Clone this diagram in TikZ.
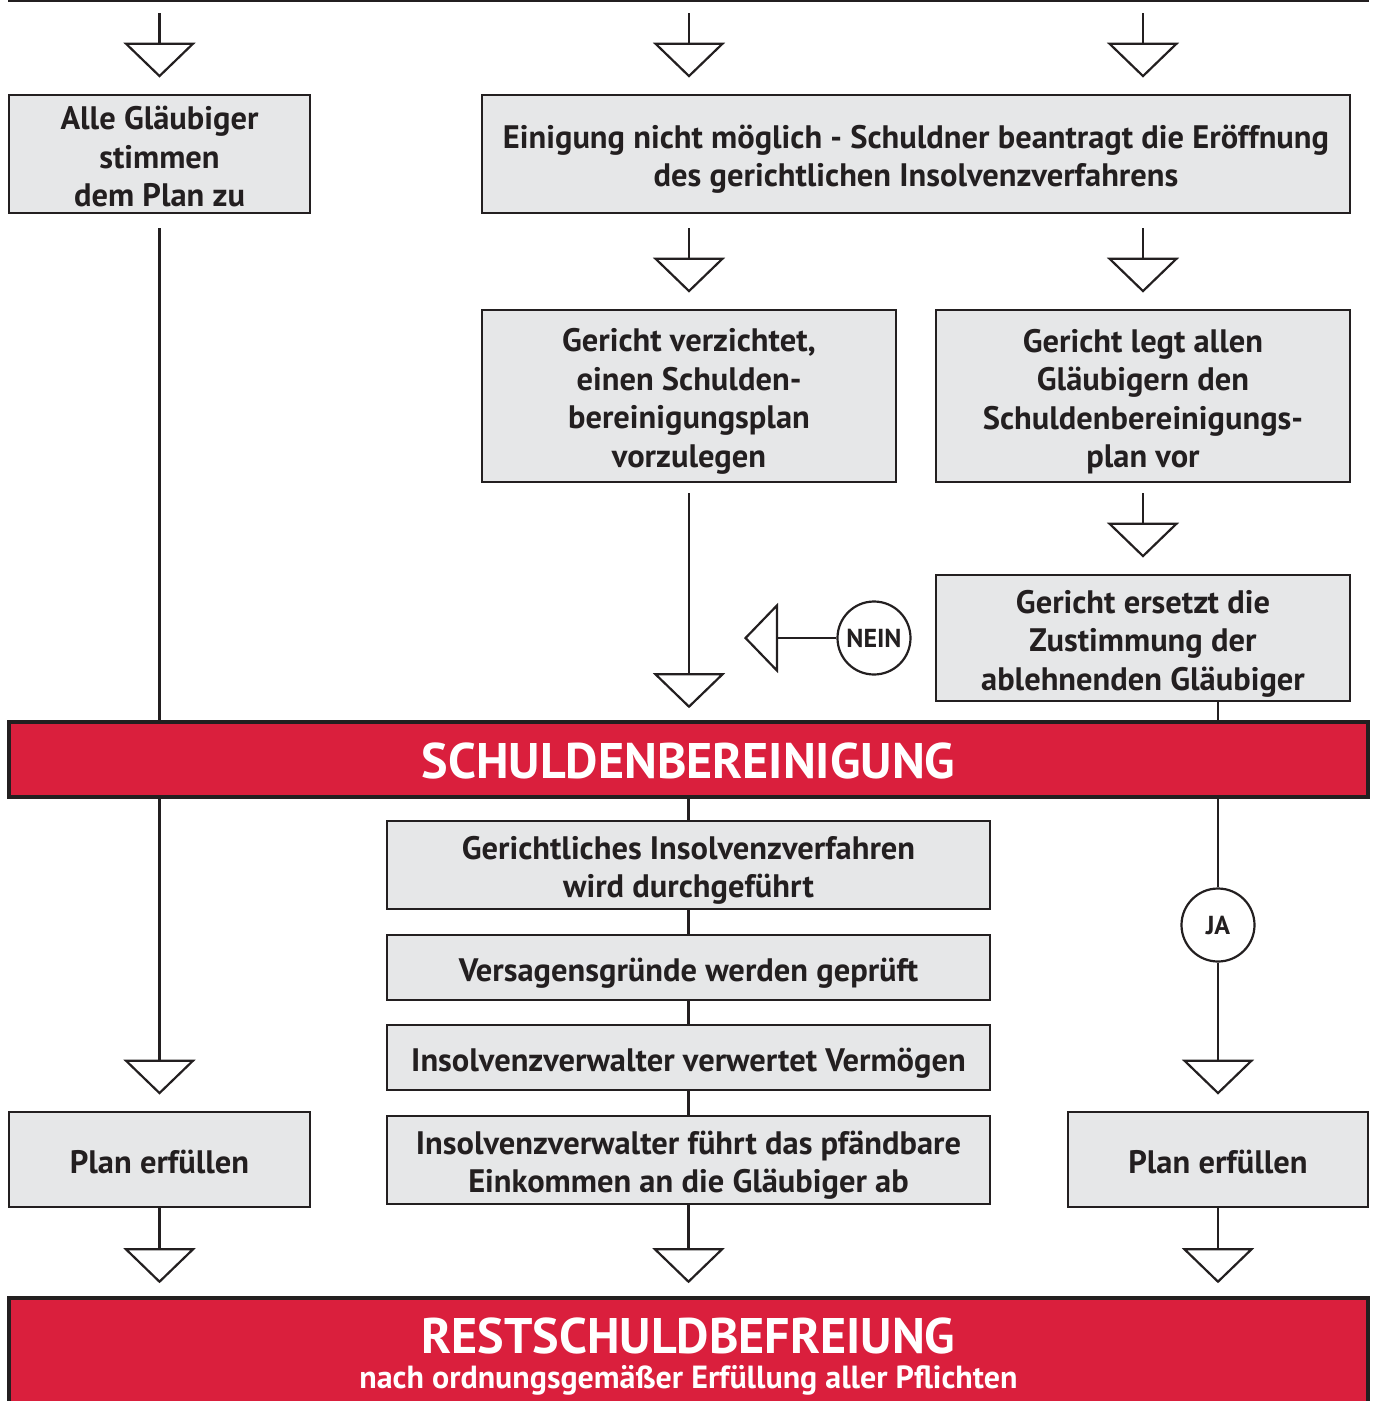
\documentclass[tikz,border=0pt]{standalone}
\usepackage{fontspec}
\setmainfont{PT Sans}
\usetikzlibrary{arrows.meta}
\definecolor{ink}{HTML}{231F20}
\definecolor{boxgray}{HTML}{E6E7E8}
\definecolor{brandred}{HTML}{DA1F3D}
\newcommand\tst{\rule{0pt}{34pt}}
\newcommand\bst{\rule[-6pt]{0pt}{6pt}}
\begin{document}
\begin{tikzpicture}[x=1pt,y=-1pt,
  box/.style={draw=ink, line width=2.8pt, fill=boxgray, text=ink, align=center, inner sep=0pt,
    font=\fontsize{32.5}{38.5}\selectfont\bfseries},
  redbox/.style={draw=ink, line width=3.6pt, fill=brandred, inner sep=0pt},
  redtext/.style={text=white, align=center, inner sep=0pt},
  circ/.style={circle, draw=ink, line width=2.2pt, fill=white, minimum size=73pt, inner sep=0pt,
    text=ink, font=\fontsize{26}{28}\selectfont\bfseries},
  conn/.style={draw=ink, line width=2.2pt},
  flow/.style={conn, -{Triangle[open, length=35pt, width=72pt, line width=2.2pt]}},
  flowh/.style={conn, -{Triangle[open, length=34pt, width=70pt, line width=2.2pt]}},
]
\useasboundingbox (0,0) rectangle (1375,1401);
\clip (0,0) rectangle (1375,1401);

% boxes
\node[box, minimum width=1359pt, minimum height=62pt] (top) at (688.5,-30) {};
\node[box, minimum width=301pt, minimum height=118pt] (alle) at (159.5,154) {\tst Alle Gläubiger\\stimmen\\dem Plan zu\bst};
\node[box, minimum width=868pt, minimum height=118pt] (einig) at (916,154) {\tst Einigung nicht möglich - Schuldner beantragt die Eröffnung\\des gerichtlichen Insolvenzverfahrens\bst};
\node[box, minimum width=414pt, minimum height=172pt] (verz) at (689,396) {\tst Gericht verzichtet,\\einen Schulden-\\bereinigungsplan\\vorzulegen\bst};
\node[box, minimum width=414pt, minimum height=172pt] (legt) at (1143,396) {\tst Gericht legt allen\\Gläubigern den\\Schuldenbereinigungs-\\plan vor\bst};
\node[box, minimum width=414pt, minimum height=126pt] (ersetzt) at (1143,638) {\tst Gericht ersetzt die\\Zustimmung der\\ablehnenden Gläubiger\bst};
\node[redbox, minimum width=1359pt, minimum height=75pt] (sch) at (688.5,759.5) {};
\node[redtext, font=\fontsize{50}{56}\selectfont\bfseries] (schtitle) at (688.5,761) {SCHULDENBEREINIGUNG};
\node[box, minimum width=603pt, minimum height=88pt] (g1) at (688.5,865) {\tst Gerichtliches Insolvenzverfahren\\wird durchgeführt\bst};
\node[box, minimum width=603pt, minimum height=65pt] (g2) at (688.5,967.5) {\tst Versagensgründe werden geprüft\bst};
\node[box, minimum width=603pt, minimum height=65pt] (g3) at (688.5,1057.5) {\tst Insolvenzverwalter verwertet Vermögen\bst};
\node[box, minimum width=603pt, minimum height=88pt] (g4) at (688.5,1160) {\tst Insolvenzverwalter führt das pfändbare\\Einkommen an die Gläubiger ab\bst};
\node[box, minimum width=301pt, minimum height=95pt] (plan1) at (159.5,1159.5) {\tst Plan erfüllen\bst};
\node[box, minimum width=300pt, minimum height=95pt] (plan2) at (1218,1159.5) {\tst Plan erfüllen\bst};
\node[redbox, minimum width=1359pt, minimum height=140pt] (rest) at (688.5,1368) {};
\node[redtext, font=\fontsize{50}{56}\selectfont\bfseries] (resttitle) at (688.5,1336) {RESTSCHULDBEFREIUNG};
\node[redtext, font=\fontsize{32}{36}\selectfont\bfseries] (restsub) at (688.5,1380) {nach ordnungsgemäßer Erfüllung aller Pflichten};

\node[circ] (nein) at (874,638) {NEIN};
\node[circ] (ja) at (1218,925) {JA};
\coordinate (neintip) at (744,638);

% connectors
\draw[flow] ([yshift=-11pt]top.south -| alle.north) -- ([yshift=16pt]alle.north);
\draw[flow] ([yshift=-11pt]top.south -| verz.north) -- ([yshift=16pt]einig.north -| verz.north);
\draw[flow] ([yshift=-11pt]top.south -| legt.north) -- ([yshift=16pt]einig.north -| legt.north);
\draw[flow] ([yshift=-14pt]einig.south -| verz.north) -- ([yshift=16pt]verz.north);
\draw[flow] ([yshift=-14pt]einig.south -| legt.north) -- ([yshift=16pt]legt.north);
\draw[flow] ([yshift=-10pt]legt.south) -- ([yshift=16pt]ersetzt.north);
\draw[flow] ([yshift=-10pt]verz.south) -- ([yshift=12pt]sch.north -| verz.south);
\draw[conn] ([yshift=-14pt]alle.south) -- (alle.south |- sch.north);
\draw[flow] (plan1.north |- sch.south) -- ([yshift=16pt]plan1.north);
\draw[conn] (ersetzt.south -| plan2.north) -- (sch.north -| plan2.north);
\draw[conn] (sch.south -| ja.north) -- (ja.north);
\draw[flow] (ja.south) -- ([yshift=16pt]plan2.north);
\draw[conn] (sch.south -| g1.north) -- (g1.north);
\draw[conn] (g1.south) -- (g2.north);
\draw[conn] (g2.south) -- (g3.north);
\draw[conn] (g3.south) -- (g4.north);
\draw[flow] (g4.south) -- ([yshift=13pt]rest.north -| g4.south);
\draw[flow] (plan1.south) -- ([yshift=13pt]rest.north -| plan1.south);
\draw[flow] (plan2.south) -- ([yshift=13pt]rest.north -| plan2.south);
\draw[flowh] (nein.west) -- (neintip);
\end{tikzpicture}
\end{document}
